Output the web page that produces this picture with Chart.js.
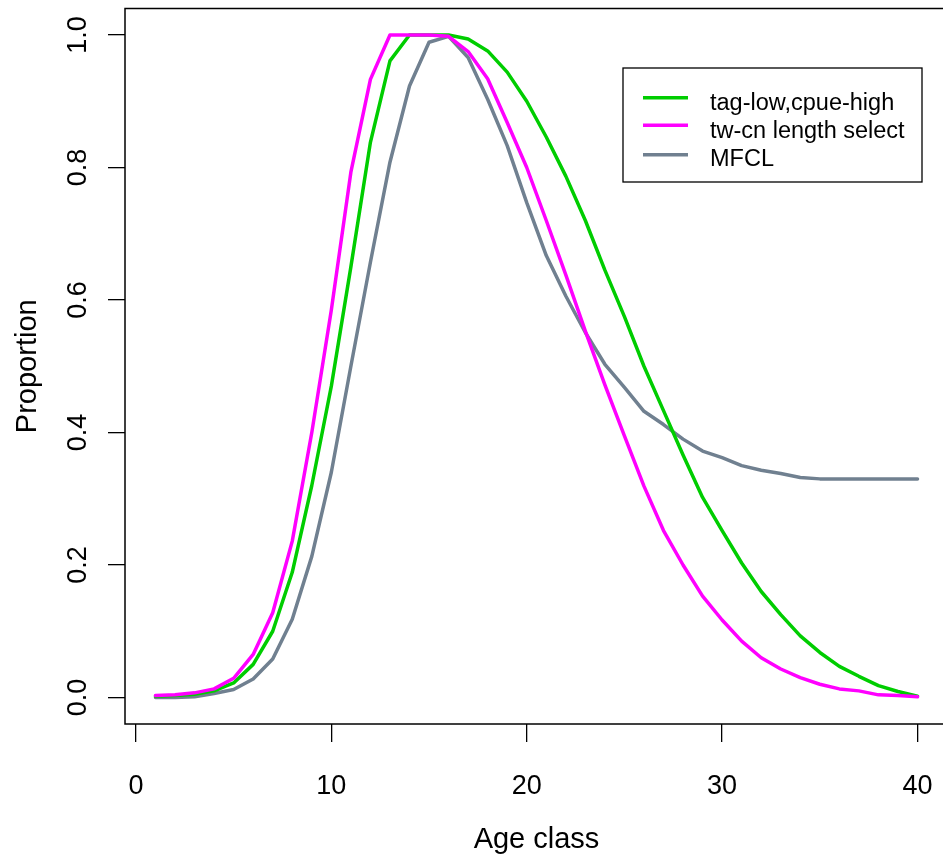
<!DOCTYPE html>
<html>
<head>
<meta charset="utf-8">
<script src="https://cdn.jsdelivr.net/npm/chart.js@4/dist/chart.umd.min.js"></script>
<style>
html, body { margin:0; padding:0; overflow:hidden; background:#fff; width:943px; height:858px; }
canvas { display:block; }
</style>
</head>
<body>
<canvas id="c" width="950" height="858"></canvas>
<script>
const ages = [1,2,3,4,5,6,7,8,9,10,11,12,13,14,15,16,17,18,19,20,21,22,23,24,25,26,27,28,29,30,31,32,33,34,35,36,37,38,39,40];
const tagLowCpueHigh = [0.002,0.003,0.005,0.010,0.022,0.050,0.100,0.189,0.320,0.470,0.650,0.838,0.961,1.000,1.000,1.000,0.994,0.976,0.944,0.900,0.846,0.787,0.720,0.645,0.575,0.500,0.433,0.366,0.302,0.252,0.203,0.160,0.125,0.093,0.068,0.047,0.032,0.018,0.009,0.002];
const twCnLengthSelect = [0.003,0.004,0.007,0.013,0.029,0.065,0.128,0.236,0.400,0.585,0.793,0.933,1.000,1.000,1.000,0.998,0.975,0.934,0.868,0.800,0.720,0.638,0.553,0.472,0.395,0.319,0.252,0.200,0.153,0.117,0.085,0.060,0.043,0.030,0.020,0.013,0.010,0.004,0.003,0.001];
const mfcl = [0.000,0.000,0.001,0.006,0.012,0.028,0.058,0.118,0.213,0.340,0.500,0.657,0.808,0.923,0.989,0.998,0.966,0.903,0.833,0.747,0.667,0.606,0.551,0.503,0.468,0.432,0.412,0.390,0.372,0.362,0.350,0.343,0.338,0.332,0.330,0.330,0.330,0.330,0.330,0.330];
const seriesLabels = ['tag-low,cpue-high','tw-cn length select','MFCL'];
const seriesColors = ['#00CD00','#FF00FF','#708090'];
const xTickValues = [0,10,20,30,40];
const yTickValues = [0,0.2,0.4,0.6,0.8,1.0];

const FONT = "'Liberation Sans', Arial, Helvetica, sans-serif";

function pts(arr){ return ages.map((a,i)=>({x:a, y:arr[i]})); }

const boxAndLegend = {
  id:'boxAndLegend',
  afterDraw(chart){
    const ctx = chart.ctx, a = chart.chartArea;
    ctx.save();
    ctx.strokeStyle = '#000';
    ctx.lineWidth = 1.5;
    ctx.strokeRect(a.left, a.top, a.right - a.left, a.bottom - a.top);
    // legend
    const lx = 623, ly = 68, lw = 299, lh = 114;
    ctx.fillStyle = '#fff';
    ctx.fillRect(lx, ly, lw, lh);
    ctx.lineWidth = 1.3;
    ctx.strokeRect(lx, ly, lw, lh);
    const rows = [97.7, 125.3, 154.7];
    const bases = [109.5, 137.5, 165.5];
    ctx.font = '23.5px ' + FONT;
    ctx.textBaseline = 'alphabetic';
    ctx.textAlign = 'left';
    chart.data.datasets.forEach((ds,i)=>{
      ctx.strokeStyle = ds.borderColor;
      ctx.lineWidth = 3.5;
      ctx.lineCap = 'butt';
      ctx.beginPath();
      ctx.moveTo(643, rows[i]);
      ctx.lineTo(688, rows[i]);
      ctx.stroke();
      ctx.fillStyle = '#000';
      ctx.fillText(ds.label, 710, bases[i]);
    });
    ctx.restore();
  }
};

new Chart(document.getElementById('c'), {
  type:'line',
  data:{
    datasets:[
      {label:seriesLabels[0], data:pts(tagLowCpueHigh), borderColor:seriesColors[0], order:1},
      {label:seriesLabels[1], data:pts(twCnLengthSelect), borderColor:seriesColors[1], order:0},
      {label:seriesLabels[2], data:pts(mfcl), borderColor:seriesColors[2], order:2}
    ].map(d=>Object.assign(d,{borderWidth:3.5, pointRadius:0, fill:false, tension:0, borderCapStyle:'round', borderJoinStyle:'round'}))
  },
  options:{
    responsive:false,
    animation:false,
    layout:{padding:{top:8.5, right:2, left:0, bottom:0}},
    plugins:{legend:{display:false}, tooltip:{enabled:false}},
    scales:{
      x:{
        type:'linear', min:-0.56, max:41.56,
        afterBuildTicks:s=>{ s.ticks = xTickValues.map(v=>({value:v})); },
        afterFit:s=>{ s.height = 134; s.paddingLeft = 0; s.paddingRight = 0; },
        grid:{drawOnChartArea:false, drawTicks:true, tickLength:18, color:'#000', lineWidth:1.3},
        border:{display:false},
        ticks:{autoSkip:false, minRotation:0, maxRotation:0, padding:28, color:'#000', font:{size:27, family:FONT}},
        title:{display:true, text:'Age class', color:'#000', font:{size:29, family:FONT}, padding:{top:0, bottom:1}}
      },
      y:{
        type:'linear', min:-0.04, max:1.04,
        afterBuildTicks:s=>{ s.ticks = yTickValues.map(v=>({value:v})); },
        afterFit:s=>{ s.width = 125; s.paddingTop = 0; s.paddingBottom = 0; },
        grid:{drawOnChartArea:false, drawTicks:true, tickLength:17, color:'#000', lineWidth:1.3},
        border:{display:false},
        ticks:{minRotation:90, maxRotation:90, crossAlign:'center', padding:11, color:'#000', font:{size:27, family:FONT}, callback:v=>Number(v).toFixed(1)},
        title:{display:true, text:'Proportion', color:'#000', font:{size:29, family:FONT}, padding:{top:11, bottom:0}}
      }
    }
  },
  plugins:[boxAndLegend]
});
</script>
</body>
</html>
